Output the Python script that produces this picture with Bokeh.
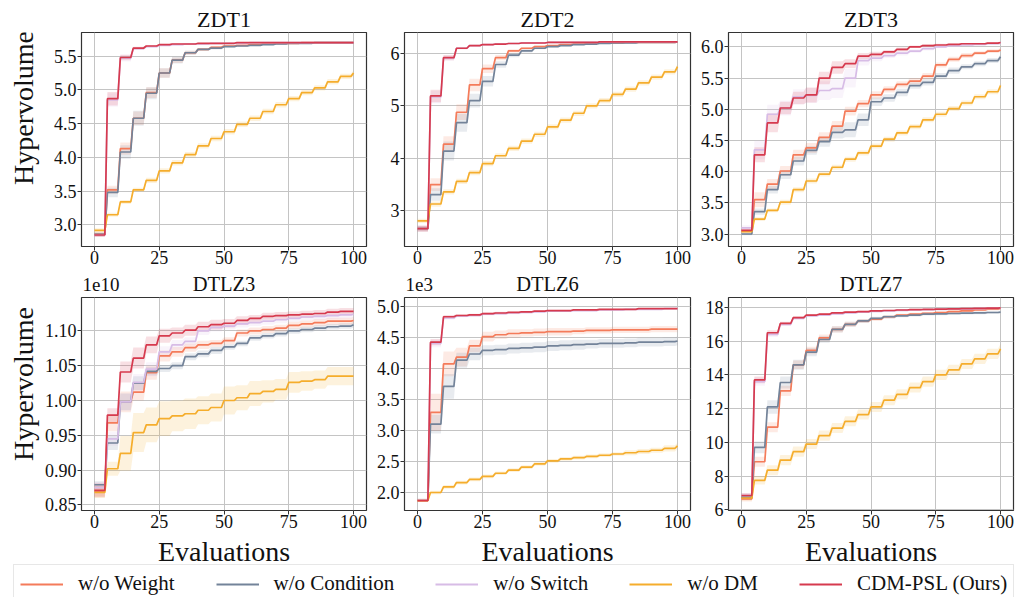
import math
from bokeh.plotting import figure
from bokeh.layouts import column, row
from bokeh.models import (Label, FixedTicker, PrintfTickFormatter, Legend, LegendItem,
                          Range1d)
from bokeh.embed import file_html
from bokeh.resources import INLINE

FONT = "Liberation Serif"

# ---------------- data ----------------
EVALS = [0, 5, 10, 15, 20, 25, 30, 35, 40, 45, 50, 55, 60, 65, 70, 75, 80, 85, 90, 95, 100]
SERIES = ["w/o Weight", "w/o Condition", "w/o Switch", "w/o DM", "CDM-PSL (Ours)"]
COLORS = ["#F47B5A", "#738399", "#D7BCE6", "#F5AD2C", "#D63A4E"]
X_TICKS = [0, 25, 50, 75, 100]
TOP_TITLES = ["ZDT1", "ZDT2", "ZDT3"]
BOTTOM_TITLES = ["DTLZ3", "DTLZ6", "DTLZ7"]
BOTTOM_OFFSETS = ["1e10", "1e3", None]
Y_LABEL = "Hypervolume"
X_LABEL = "Evaluations"

# ZDT1
Z1_WEIGHT = [2.86, 3.52, 4.13, 4.58, 4.96, 5.25, 5.44, 5.55, 5.60, 5.63, 5.65, 5.66, 5.67, 5.68, 5.69, 5.69, 5.70, 5.70, 5.70, 5.70, 5.70]
Z1_COND = [2.86, 3.48, 4.08, 4.58, 4.95, 5.25, 5.44, 5.55, 5.60, 5.62, 5.64, 5.65, 5.66, 5.67, 5.68, 5.69, 5.69, 5.70, 5.70, 5.70, 5.70]
Z1_SWITCH = [2.85, 4.85, 5.47, 5.61, 5.64, 5.66, 5.67, 5.68, 5.68, 5.69, 5.69, 5.69, 5.70, 5.70, 5.70, 5.70, 5.70, 5.70, 5.70, 5.70, 5.70]
Z1_DM = [2.92, 3.15, 3.34, 3.52, 3.66, 3.80, 3.92, 4.04, 4.17, 4.28, 4.38, 4.49, 4.58, 4.68, 4.78, 4.87, 4.96, 5.03, 5.12, 5.20, 5.25]
Z1_CDM = [2.85, 4.87, 5.48, 5.62, 5.65, 5.67, 5.68, 5.68, 5.69, 5.69, 5.69, 5.70, 5.70, 5.70, 5.70, 5.70, 5.70, 5.70, 5.70, 5.70, 5.70]
Z1_WEIGHT_SD = [0.03, 0.06, 0.09, 0.10, 0.08, 0.07, 0.04, 0.03, 0.02, 0.02, 0.01, 0.01, 0.01, 0.01, 0.01, 0.01, 0.01, 0.01, 0.01, 0.01, 0.01]
Z1_COND_SD = [0.03, 0.07, 0.10, 0.11, 0.09, 0.07, 0.05, 0.03, 0.02, 0.02, 0.01, 0.01, 0.01, 0.01, 0.01, 0.01, 0.01, 0.01, 0.01, 0.01, 0.01]
Z1_SWITCH_SD = [0.03, 0.10, 0.05, 0.02, 0.01, 0.01, 0.01, 0.01, 0.01, 0.01, 0.01, 0.01, 0.01, 0.01, 0.01, 0.01, 0.01, 0.01, 0.01, 0.01, 0.01]
Z1_DM_SD = [0.03, 0.03, 0.03, 0.03, 0.04, 0.04, 0.04, 0.04, 0.04, 0.04, 0.04, 0.04, 0.04, 0.04, 0.04, 0.04, 0.04, 0.04, 0.04, 0.04, 0.04]
Z1_CDM_SD = [0.03, 0.10, 0.04, 0.02, 0.01, 0.01, 0.01, 0.01, 0.01, 0.01, 0.01, 0.01, 0.01, 0.01, 0.01, 0.01, 0.01, 0.01, 0.01, 0.01, 0.01]

# ZDT2
Z2_WEIGHT = [2.66, 3.50, 4.27, 4.88, 5.40, 5.71, 5.92, 6.05, 6.10, 6.13, 6.15, 6.17, 6.18, 6.19, 6.20, 6.20, 6.21, 6.21, 6.21, 6.21, 6.22]
Z2_COND = [2.66, 3.31, 4.14, 4.68, 5.10, 5.47, 5.79, 5.97, 6.05, 6.10, 6.13, 6.15, 6.17, 6.18, 6.19, 6.20, 6.20, 6.21, 6.21, 6.21, 6.22]
Z2_SWITCH = [2.66, 5.17, 5.91, 6.10, 6.15, 6.17, 6.18, 6.19, 6.20, 6.20, 6.21, 6.21, 6.21, 6.21, 6.22, 6.22, 6.22, 6.22, 6.22, 6.22, 6.22]
Z2_DM = [2.81, 3.13, 3.36, 3.56, 3.73, 3.90, 4.05, 4.19, 4.33, 4.46, 4.60, 4.73, 4.86, 5.00, 5.10, 5.22, 5.32, 5.44, 5.55, 5.65, 5.75]
Z2_CDM = [2.66, 5.19, 5.92, 6.10, 6.15, 6.17, 6.18, 6.19, 6.20, 6.20, 6.21, 6.21, 6.21, 6.21, 6.22, 6.22, 6.22, 6.22, 6.22, 6.22, 6.22]
Z2_WEIGHT_SD = [0.05, 0.12, 0.15, 0.15, 0.12, 0.08, 0.05, 0.03, 0.02, 0.02, 0.01, 0.01, 0.01, 0.01, 0.01, 0.01, 0.01, 0.01, 0.01, 0.01, 0.01]
Z2_COND_SD = [0.05, 0.12, 0.18, 0.17, 0.13, 0.10, 0.06, 0.04, 0.03, 0.02, 0.01, 0.01, 0.01, 0.01, 0.01, 0.01, 0.01, 0.01, 0.01, 0.01, 0.01]
Z2_SWITCH_SD = [0.06, 0.12, 0.05, 0.02, 0.01, 0.01, 0.01, 0.01, 0.01, 0.01, 0.01, 0.01, 0.01, 0.01, 0.01, 0.01, 0.01, 0.01, 0.01, 0.01, 0.01]
Z2_DM_SD = [0.04, 0.05, 0.05, 0.05, 0.05, 0.05, 0.05, 0.05, 0.05, 0.05, 0.05, 0.05, 0.05, 0.05, 0.05, 0.05, 0.05, 0.05, 0.05, 0.05, 0.05]
Z2_CDM_SD = [0.06, 0.12, 0.05, 0.02, 0.01, 0.01, 0.01, 0.01, 0.01, 0.01, 0.01, 0.01, 0.01, 0.01, 0.01, 0.01, 0.01, 0.01, 0.01, 0.01, 0.01]

# ZDT3
Z3_WEIGHT = [3.05, 3.55, 3.80, 4.01, 4.27, 4.38, 4.55, 4.73, 4.97, 5.09, 5.23, 5.32, 5.40, 5.45, 5.53, 5.71, 5.80, 5.86, 5.90, 5.93, 5.95]
Z3_COND = [3.00, 3.36, 3.71, 3.95, 4.17, 4.34, 4.48, 4.63, 4.67, 4.83, 5.12, 5.18, 5.27, 5.38, 5.43, 5.53, 5.62, 5.68, 5.73, 5.78, 5.84]
Z3_SWITCH = [3.10, 4.35, 4.92, 5.02, 5.20, 5.22, 5.30, 5.33, 5.50, 5.78, 5.82, 5.86, 5.90, 5.93, 5.97, 6.00, 6.02, 6.03, 6.04, 6.05, 6.06]
Z3_DM = [3.04, 3.24, 3.38, 3.51, 3.71, 3.85, 3.96, 4.07, 4.20, 4.30, 4.41, 4.52, 4.62, 4.72, 4.83, 4.92, 5.01, 5.10, 5.20, 5.28, 5.38]
Z3_CDM = [3.06, 4.27, 4.78, 5.02, 5.18, 5.23, 5.50, 5.67, 5.73, 5.85, 5.88, 5.92, 5.96, 6.00, 6.02, 6.03, 6.04, 6.05, 6.05, 6.06, 6.07]
Z3_WEIGHT_SD = [0.02, 0.12, 0.08, 0.08, 0.08, 0.08, 0.08, 0.08, 0.07, 0.06, 0.06, 0.05, 0.05, 0.05, 0.05, 0.04, 0.04, 0.04, 0.03, 0.03, 0.03]
Z3_COND_SD = [0.02, 0.05, 0.06, 0.07, 0.07, 0.07, 0.08, 0.10, 0.12, 0.10, 0.07, 0.06, 0.06, 0.05, 0.05, 0.05, 0.05, 0.04, 0.04, 0.04, 0.04]
Z3_SWITCH_SD = [0.04, 0.15, 0.15, 0.12, 0.12, 0.12, 0.15, 0.15, 0.15, 0.08, 0.05, 0.04, 0.04, 0.03, 0.03, 0.02, 0.02, 0.02, 0.02, 0.02, 0.02]
Z3_DM_SD = [0.02, 0.03, 0.03, 0.04, 0.04, 0.04, 0.04, 0.04, 0.04, 0.04, 0.04, 0.04, 0.04, 0.04, 0.04, 0.04, 0.04, 0.04, 0.04, 0.04, 0.04]
Z3_CDM_SD = [0.03, 0.12, 0.15, 0.10, 0.10, 0.12, 0.10, 0.10, 0.07, 0.05, 0.04, 0.03, 0.03, 0.02, 0.02, 0.02, 0.01, 0.01, 0.01, 0.01, 0.01]

# DTLZ3 (x 1e10)
D3_WEIGHT = [0.870, 0.968, 0.998, 1.012, 1.040, 1.064, 1.070, 1.076, 1.080, 1.082, 1.086, 1.097, 1.100, 1.102, 1.104, 1.108, 1.110, 1.112, 1.114, 1.114, 1.115]
D3_COND = [0.879, 0.939, 0.998, 1.025, 1.042, 1.046, 1.050, 1.063, 1.067, 1.072, 1.077, 1.082, 1.090, 1.093, 1.096, 1.100, 1.102, 1.104, 1.106, 1.107, 1.109]
D3_SWITCH = [0.875, 0.945, 0.998, 1.026, 1.045, 1.070, 1.080, 1.085, 1.100, 1.105, 1.107, 1.110, 1.112, 1.114, 1.116, 1.118, 1.120, 1.121, 1.122, 1.123, 1.124]
D3_DM = [0.868, 0.902, 0.924, 0.954, 0.965, 0.974, 0.978, 0.981, 0.986, 0.990, 1.000, 1.004, 1.010, 1.013, 1.016, 1.026, 1.028, 1.030, 1.035, 1.035, 1.035]
D3_CDM = [0.871, 0.979, 1.041, 1.061, 1.080, 1.093, 1.097, 1.101, 1.106, 1.109, 1.111, 1.115, 1.118, 1.121, 1.122, 1.123, 1.124, 1.125, 1.127, 1.128, 1.128]
D3_WEIGHT_SD = [0.008, 0.012, 0.015, 0.012, 0.010, 0.008, 0.007, 0.006, 0.006, 0.005, 0.005, 0.005, 0.005, 0.005, 0.005, 0.005, 0.005, 0.005, 0.005, 0.005, 0.005]
D3_COND_SD = [0.005, 0.010, 0.012, 0.010, 0.006, 0.005, 0.005, 0.005, 0.005, 0.005, 0.004, 0.004, 0.004, 0.004, 0.004, 0.004, 0.004, 0.004, 0.004, 0.004, 0.004]
D3_SWITCH_SD = [0.008, 0.010, 0.012, 0.012, 0.010, 0.008, 0.007, 0.006, 0.006, 0.006, 0.005, 0.005, 0.005, 0.005, 0.005, 0.005, 0.005, 0.005, 0.005, 0.005, 0.005]
D3_DM_SD = [0.008, 0.010, 0.025, 0.028, 0.025, 0.025, 0.022, 0.022, 0.020, 0.020, 0.020, 0.018, 0.018, 0.016, 0.015, 0.015, 0.014, 0.013, 0.013, 0.013, 0.013]
D3_CDM_SD = [0.010, 0.010, 0.015, 0.015, 0.012, 0.010, 0.008, 0.008, 0.007, 0.007, 0.006, 0.006, 0.005, 0.005, 0.005, 0.005, 0.005, 0.005, 0.005, 0.005, 0.005]

# DTLZ6 (x 1e3)
D6_WEIGHT = [1.88, 3.29, 4.07, 4.18, 4.36, 4.51, 4.54, 4.56, 4.57, 4.58, 4.59, 4.59, 4.60, 4.61, 4.61, 4.62, 4.62, 4.62, 4.63, 4.63, 4.63]
D6_COND = [1.88, 3.10, 3.71, 4.13, 4.23, 4.29, 4.30, 4.32, 4.33, 4.34, 4.36, 4.37, 4.38, 4.39, 4.40, 4.40, 4.41, 4.42, 4.42, 4.43, 4.44]
D6_SWITCH = [1.88, 4.40, 4.81, 4.84, 4.85, 4.87, 4.88, 4.89, 4.90, 4.91, 4.92, 4.92, 4.93, 4.93, 4.94, 4.94, 4.95, 4.95, 4.95, 4.96, 4.96]
D6_DM = [1.87, 2.00, 2.09, 2.16, 2.21, 2.26, 2.31, 2.36, 2.41, 2.46, 2.51, 2.54, 2.56, 2.58, 2.60, 2.62, 2.64, 2.66, 2.68, 2.71, 2.75]
D6_CDM = [1.87, 4.42, 4.83, 4.85, 4.86, 4.88, 4.89, 4.90, 4.91, 4.92, 4.93, 4.93, 4.94, 4.94, 4.95, 4.95, 4.95, 4.96, 4.96, 4.96, 4.96]
D6_WEIGHT_SD = [0.02, 0.30, 0.20, 0.15, 0.10, 0.08, 0.07, 0.07, 0.06, 0.06, 0.06, 0.06, 0.05, 0.05, 0.05, 0.05, 0.05, 0.05, 0.05, 0.05, 0.05]
D6_COND_SD = [0.02, 0.15, 0.20, 0.12, 0.10, 0.08, 0.08, 0.08, 0.08, 0.08, 0.08, 0.08, 0.08, 0.07, 0.07, 0.07, 0.07, 0.07, 0.07, 0.07, 0.07]
D6_SWITCH_SD = [0.02, 0.06, 0.03, 0.02, 0.02, 0.02, 0.02, 0.02, 0.02, 0.01, 0.01, 0.01, 0.01, 0.01, 0.01, 0.01, 0.01, 0.01, 0.01, 0.01, 0.01]
D6_DM_SD = [0.02, 0.03, 0.03, 0.03, 0.03, 0.03, 0.03, 0.03, 0.03, 0.03, 0.03, 0.03, 0.03, 0.03, 0.03, 0.03, 0.04, 0.04, 0.04, 0.05, 0.05]
D6_CDM_SD = [0.02, 0.05, 0.03, 0.02, 0.02, 0.02, 0.02, 0.01, 0.01, 0.01, 0.01, 0.01, 0.01, 0.01, 0.01, 0.01, 0.01, 0.01, 0.01, 0.01, 0.01]

# DTLZ7
D7_WEIGHT = [6.65, 8.85, 10.90, 13.05, 14.60, 15.45, 16.20, 16.70, 17.00, 17.20, 17.30, 17.45, 17.55, 17.60, 17.65, 17.70, 17.75, 17.80, 17.85, 17.90, 17.95]
D7_COND = [6.75, 9.70, 12.10, 13.55, 14.60, 15.35, 16.10, 16.70, 17.00, 17.20, 17.35, 17.45, 17.50, 17.55, 17.60, 17.62, 17.64, 17.66, 17.68, 17.70, 17.72]
D7_SWITCH = [6.85, 13.60, 16.40, 17.00, 17.35, 17.50, 17.55, 17.62, 17.68, 17.72, 17.76, 17.80, 17.83, 17.85, 17.87, 17.89, 17.90, 17.92, 17.93, 17.95, 17.96]
D7_DM = [6.70, 7.75, 8.35, 8.95, 9.45, 9.90, 10.40, 10.85, 11.25, 11.65, 12.10, 12.50, 12.85, 13.25, 13.60, 14.00, 14.30, 14.65, 14.95, 15.25, 15.55]
D7_CDM = [6.85, 13.70, 16.50, 17.05, 17.40, 17.55, 17.60, 17.68, 17.72, 17.75, 17.80, 17.82, 17.85, 17.87, 17.88, 17.90, 17.92, 17.93, 17.95, 17.96, 17.97]
D7_WEIGHT_SD = [0.15, 0.30, 0.30, 0.30, 0.25, 0.22, 0.20, 0.18, 0.15, 0.12, 0.10, 0.10, 0.08, 0.08, 0.08, 0.08, 0.08, 0.08, 0.08, 0.08, 0.08]
D7_COND_SD = [0.15, 0.35, 0.40, 0.35, 0.30, 0.25, 0.20, 0.18, 0.15, 0.12, 0.10, 0.10, 0.08, 0.08, 0.08, 0.08, 0.08, 0.08, 0.08, 0.08, 0.08]
D7_SWITCH_SD = [0.15, 0.25, 0.15, 0.10, 0.08, 0.06, 0.05, 0.05, 0.05, 0.05, 0.05, 0.05, 0.05, 0.05, 0.05, 0.05, 0.05, 0.05, 0.05, 0.05, 0.05]
D7_DM_SD = [0.15, 0.25, 0.30, 0.30, 0.30, 0.30, 0.30, 0.30, 0.30, 0.30, 0.30, 0.30, 0.30, 0.30, 0.30, 0.30, 0.30, 0.30, 0.30, 0.30, 0.30]
D7_CDM_SD = [0.15, 0.20, 0.15, 0.10, 0.08, 0.06, 0.05, 0.05, 0.05, 0.05, 0.05, 0.05, 0.05, 0.05, 0.05, 0.05, 0.05, 0.05, 0.05, 0.05, 0.05]

# ---------------- layout constants (pixels) ----------------
YSTRIP_W = 40
COLS = [(330, 41, 4), (324, 34, 4), (324, 34, 5)]   # (width, left border, right border)
ROW1 = (239, 0, 25)     # (height, top border, bottom border)
ROW2 = (240, 2, 25)
HEAD1_H, HEAD2_H, FOOT_H = 32, 24, 62
TOTAL_W = YSTRIP_W + sum(c[0] for c in COLS)

FRAME_CX = []
FRAME_LX = []
_x = YSTRIP_W
for w, l, r in COLS:
    FRAME_CX.append(_x + l + (w - l - r) / 2)
    FRAME_LX.append(_x + l)
    _x += w


# ---------------- helpers ----------------
def stairs(vals):
    xs, ys = [], []
    for i, v in enumerate(vals):
        if i < len(vals) - 1:
            xs += [EVALS[i], EVALS[i + 1] - 1]
            ys += [v, v]
        else:
            xs.append(EVALS[i])
            ys.append(v)
    return xs, ys


def blank(width, height):
    s = figure(width=width, height=height, output_backend="svg", toolbar_location=None,
               x_axis_type=None, y_axis_type=None, min_border=0,
               min_border_left=0, min_border_right=0, min_border_top=0, min_border_bottom=0,
               x_range=Range1d(0, 1), y_range=Range1d(0, 1))
    s.outline_line_color = None
    s.background_fill_color = "white"
    s.border_fill_color = "white"
    return s


def text_label(x, y, text, size, align="center", angle=0.0):
    return Label(x=x, y=y, x_units="screen", y_units="screen", text=text, angle=angle,
                 text_font=FONT, text_font_size=size, text_align=align,
                 text_baseline="middle", text_color="#111111")


def make_panel(means, sds, yrange, yticks, yfmt, col, rowspec):
    width, left, right = col
    height, top, bottom = rowspec
    p = figure(width=width, height=height, x_range=Range1d(-5, 105), y_range=Range1d(*yrange),
               output_backend="svg", toolbar_location=None,
               min_border_left=left, min_border_right=right,
               min_border_top=top, min_border_bottom=bottom,
               background_fill_color="white", border_fill_color="white")
    p.outline_line_color = "#333333"
    p.outline_line_width = 1.2
    for ax in [p.xaxis[0], p.yaxis[0]]:
        ax.axis_line_color = None
        ax.major_tick_in = 0
        ax.major_tick_out = 4
        ax.major_tick_line_color = "#333333"
        ax.minor_tick_line_color = None
        ax.major_label_text_font = FONT
        ax.major_label_text_font_size = "18px"
        ax.major_label_text_color = "#111111"
        ax.major_label_standoff = 0
    p.yaxis[0].major_label_standoff = 1
    p.xaxis[0].ticker = FixedTicker(ticks=X_TICKS)
    p.yaxis[0].ticker = FixedTicker(ticks=yticks)
    p.yaxis[0].formatter = PrintfTickFormatter(format=yfmt)
    p.xgrid[0].ticker = FixedTicker(ticks=X_TICKS)
    p.ygrid[0].ticker = FixedTicker(ticks=yticks)
    for g in (p.xgrid[0], p.ygrid[0]):
        g.grid_line_color = "#c4c4c4"
        g.grid_line_width = 1

    for m, s, c in zip(means, sds, COLORS):
        xs, ys = stairs(m)
        _, ss = stairs(s)
        lo = [a - b for a, b in zip(ys, ss)]
        hi = [a + b for a, b in zip(ys, ss)]
        p.varea(x=xs, y1=lo, y2=hi, fill_color=c, fill_alpha=0.16)
    for m, c in zip(means, COLORS):
        xs, ys = stairs(m)
        p.line(xs, ys, line_color=c, line_width=1.7)
    return p


# ---------------- panels ----------------
f1 = make_panel([Z1_WEIGHT, Z1_COND, Z1_SWITCH, Z1_DM, Z1_CDM],
                [Z1_WEIGHT_SD, Z1_COND_SD, Z1_SWITCH_SD, Z1_DM_SD, Z1_CDM_SD],
                (2.68, 5.85), [3.0, 3.5, 4.0, 4.5, 5.0, 5.5], "%.1f", COLS[0], ROW1)
f2 = make_panel([Z2_WEIGHT, Z2_COND, Z2_SWITCH, Z2_DM, Z2_CDM],
                [Z2_WEIGHT_SD, Z2_COND_SD, Z2_SWITCH_SD, Z2_DM_SD, Z2_CDM_SD],
                (2.32, 6.40), [3, 4, 5, 6], "%d", COLS[1], ROW1)
f3 = make_panel([Z3_WEIGHT, Z3_COND, Z3_SWITCH, Z3_DM, Z3_CDM],
                [Z3_WEIGHT_SD, Z3_COND_SD, Z3_SWITCH_SD, Z3_DM_SD, Z3_CDM_SD],
                (2.80, 6.23), [3.0, 3.5, 4.0, 4.5, 5.0, 5.5, 6.0], "%.1f", COLS[2], ROW1)
f4 = make_panel([D3_WEIGHT, D3_COND, D3_SWITCH, D3_DM, D3_CDM],
                [D3_WEIGHT_SD, D3_COND_SD, D3_SWITCH_SD, D3_DM_SD, D3_CDM_SD],
                (0.842, 1.148), [0.85, 0.90, 0.95, 1.00, 1.05, 1.10], "%.2f", COLS[0], ROW2)
f5 = make_panel([D6_WEIGHT, D6_COND, D6_SWITCH, D6_DM, D6_CDM],
                [D6_WEIGHT_SD, D6_COND_SD, D6_SWITCH_SD, D6_DM_SD, D6_CDM_SD],
                (1.71, 5.14), [2.0, 2.5, 3.0, 3.5, 4.0, 4.5, 5.0], "%.1f", COLS[1], ROW2)
f6 = make_panel([D7_WEIGHT, D7_COND, D7_SWITCH, D7_DM, D7_CDM],
                [D7_WEIGHT_SD, D7_COND_SD, D7_SWITCH_SD, D7_DM_SD, D7_CDM_SD],
                (5.96, 18.59), [6, 8, 10, 12, 14, 16, 18], "%d", COLS[2], ROW2)

# ---------------- title strips ----------------
head1 = blank(TOTAL_W, HEAD1_H)
for t, cx in zip(TOP_TITLES, FRAME_CX):
    head1.add_layout(text_label(cx, 12.8, t, "22px"))

head2 = blank(TOTAL_W, HEAD2_H)
for t, cx, lx, off in zip(BOTTOM_TITLES, FRAME_CX, FRAME_LX, BOTTOM_OFFSETS):
    head2.add_layout(text_label(cx, 12.0, t, "20.5px"))
    if off:
        head2.add_layout(text_label(lx + 1, 11.5, off, "19px", align="left"))

# ---------------- y-label strips ----------------
ys1 = blank(YSTRIP_W, ROW1[0])
ys1.add_layout(text_label(23, 138.5, Y_LABEL, "28px", angle=math.pi / 2))
ys2 = blank(YSTRIP_W, ROW2[0])
ys2.add_layout(text_label(23, 126.5, Y_LABEL, "28px", angle=math.pi / 2))

# ---------------- footer: x labels + legend ----------------
foot = blank(TOTAL_W, FOOT_H)
for cx in FRAME_CX:
    foot.add_layout(text_label(cx, 45.6, X_LABEL, "28px"))
items = []
for name, c in zip(SERIES, COLORS):
    r = foot.line(x=[float("nan")], y=[float("nan")], line_color=c, line_width=2.2)
    items.append(LegendItem(label=name, renderers=[r]))
legend = Legend(items=items, orientation="horizontal", location=(13, -6),
                padding=6, spacing=41, glyph_width=43, glyph_height=20,
                label_height=20, label_standoff=15, margin=0,
                label_text_font=FONT, label_text_font_size="21px",
                label_text_color="#111111",
                border_line_color="#cfcfcf", border_line_width=1,
                background_fill_color="white", background_fill_alpha=1.0)
foot.add_layout(legend, "center")

layout = column(head1, row(ys1, f1, f2, f3), head2, row(ys2, f4, f5, f6), foot)
open("out.html", "w").write(file_html(layout, INLINE))
